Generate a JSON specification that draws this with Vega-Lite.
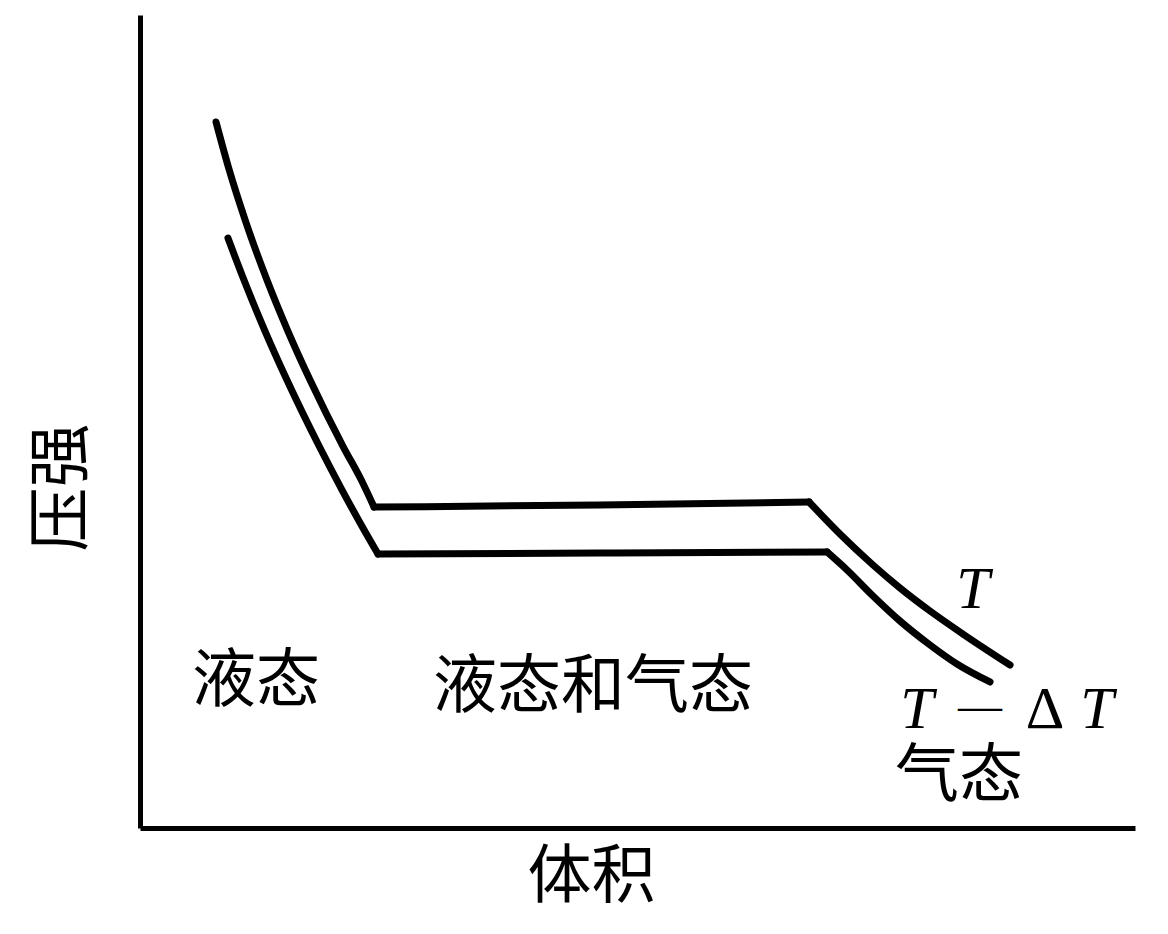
{
  "$schema": "https://vega.github.io/schema/vega-lite/v6.json",
  "width": 995,
  "height": 813,
  "autosize": "none",
  "padding": {"left": 140, "top": 15, "right": 33, "bottom": 106},
  "background": "white",
  "config": {"view": {"stroke": null}},
  "datasets": {
    "curves": [
      {"piece": "T1", "i": 1, "v": 7.64, "p": 86.84},
      {"piece": "T1", "i": 2, "v": 8.97, "p": 80.93},
      {"piece": "T1", "i": 3, "v": 10.57, "p": 74.78},
      {"piece": "T1", "i": 4, "v": 12.76, "p": 67.40},
      {"piece": "T1", "i": 5, "v": 14.82, "p": 61.25},
      {"piece": "T1", "i": 6, "v": 17.09, "p": 55.10},
      {"piece": "T1", "i": 7, "v": 20.44, "p": 46.86},
      {"piece": "T1", "i": 8, "v": 22.24, "p": 42.80},
      {"piece": "T1", "i": 9, "v": 23.52, "p": 39.48},
      {"piece": "T2", "i": 1, "v": 23.52, "p": 39.48},
      {"piece": "T2", "i": 2, "v": 46.23, "p": 39.73},
      {"piece": "T2", "i": 3, "v": 67.24, "p": 40.10},
      {"piece": "T3", "i": 1, "v": 67.24, "p": 40.10},
      {"piece": "T3", "i": 2, "v": 70.35, "p": 36.16},
      {"piece": "T3", "i": 3, "v": 73.67, "p": 32.35},
      {"piece": "T3", "i": 4, "v": 76.38, "p": 29.52},
      {"piece": "T3", "i": 5, "v": 79.40, "p": 26.69},
      {"piece": "T3", "i": 6, "v": 82.71, "p": 23.86},
      {"piece": "T3", "i": 7, "v": 87.44, "p": 20.05},
      {"piece": "L1", "i": 1, "v": 8.84, "p": 72.57},
      {"piece": "L1", "i": 2, "v": 10.45, "p": 67.40},
      {"piece": "L1", "i": 3, "v": 12.52, "p": 61.25},
      {"piece": "L1", "i": 4, "v": 14.77, "p": 55.10},
      {"piece": "L1", "i": 5, "v": 18.05, "p": 46.86},
      {"piece": "L1", "i": 6, "v": 20.31, "p": 41.57},
      {"piece": "L1", "i": 7, "v": 22.41, "p": 36.90},
      {"piece": "L1", "i": 8, "v": 23.92, "p": 33.70},
      {"piece": "L2", "i": 1, "v": 23.92, "p": 33.70},
      {"piece": "L2", "i": 2, "v": 46.23, "p": 33.83},
      {"piece": "L2", "i": 3, "v": 69.05, "p": 33.95},
      {"piece": "L3", "i": 1, "v": 69.05, "p": 33.95},
      {"piece": "L3", "i": 2, "v": 71.06, "p": 31.73},
      {"piece": "L3", "i": 3, "v": 73.67, "p": 28.54},
      {"piece": "L3", "i": 4, "v": 76.38, "p": 25.46},
      {"piece": "L3", "i": 5, "v": 79.40, "p": 22.51},
      {"piece": "L3", "i": 6, "v": 82.11, "p": 20.17},
      {"piece": "L3", "i": 7, "v": 85.43, "p": 17.96}
    ],
    "cjk": [
      {"label": "液态", "v": 11.66, "p": 17.96},
      {"label": "液态和气态", "v": 45.53, "p": 17.22},
      {"label": "气态", "v": 82.31, "p": 6.27}
    ],
    "italic": [
      {"label": "T", "v": 83.72, "p": 29.27},
      {"label": "T", "v": 78.09, "p": 14.51},
      {"label": "T", "v": 96.18, "p": 14.51}
    ],
    "upright": [
      {"label": "Δ", "v": 90.95, "p": 14.51}
    ],
    "dash": [
      {"label": "—", "v": 84.42, "p": 14.90}
    ]
  },
  "encoding": {
    "x": {
      "field": "v",
      "type": "quantitative",
      "scale": {"domain": [0, 100], "nice": false, "zero": false},
      "axis": {
        "title": "体积",
        "domain": true,
        "domainColor": "black",
        "domainWidth": 5,
        "ticks": false,
        "labels": false,
        "grid": false,
        "titleFont": "Noto Sans CJK SC",
        "titleFontSize": 64,
        "titleFontWeight": "normal",
        "titleColor": "black",
        "titleX": 451,
        "titleY": 49,
        "titleAlign": "center",
        "titleBaseline": "middle"
      }
    },
    "y": {
      "field": "p",
      "type": "quantitative",
      "scale": {"domain": [0, 100], "nice": false, "zero": false},
      "axis": {
        "title": "压强",
        "domain": true,
        "domainColor": "black",
        "domainWidth": 5,
        "ticks": false,
        "labels": false,
        "grid": false,
        "titleFont": "Noto Sans CJK SC",
        "titleFontSize": 64,
        "titleFontWeight": "normal",
        "titleColor": "black",
        "titleAngle": 270,
        "titleX": -78,
        "titleY": 472,
        "titleAlign": "center",
        "titleBaseline": "middle"
      }
    }
  },
  "layer": [
    {
      "data": {"name": "curves"},
      "mark": {"type": "line", "color": "black", "strokeWidth": 7, "strokeCap": "round", "strokeJoin": "round", "interpolate": "monotone"},
      "encoding": {
        "detail": {"field": "piece", "type": "nominal"},
        "order": {"field": "i", "type": "quantitative"}
      }
    },
    {
      "data": {"name": "cjk"},
      "mark": {"type": "text", "font": "Noto Sans CJK SC", "fontSize": 64, "color": "black", "align": "center", "baseline": "middle"},
      "encoding": {"text": {"field": "label", "type": "nominal"}}
    },
    {
      "data": {"name": "italic"},
      "mark": {"type": "text", "font": "Liberation Serif", "fontStyle": "italic", "fontSize": 60, "color": "black", "align": "center", "baseline": "middle"},
      "encoding": {"text": {"field": "label", "type": "nominal"}}
    },
    {
      "data": {"name": "upright"},
      "mark": {"type": "text", "font": "Liberation Serif", "fontSize": 60, "color": "black", "align": "center", "baseline": "middle"},
      "encoding": {"text": {"field": "label", "type": "nominal"}}
    },
    {
      "data": {"name": "dash"},
      "mark": {"type": "text", "font": "Liberation Serif", "fontSize": 44, "color": "black", "align": "center", "baseline": "middle"},
      "encoding": {"text": {"field": "label", "type": "nominal"}}
    }
  ]
}
